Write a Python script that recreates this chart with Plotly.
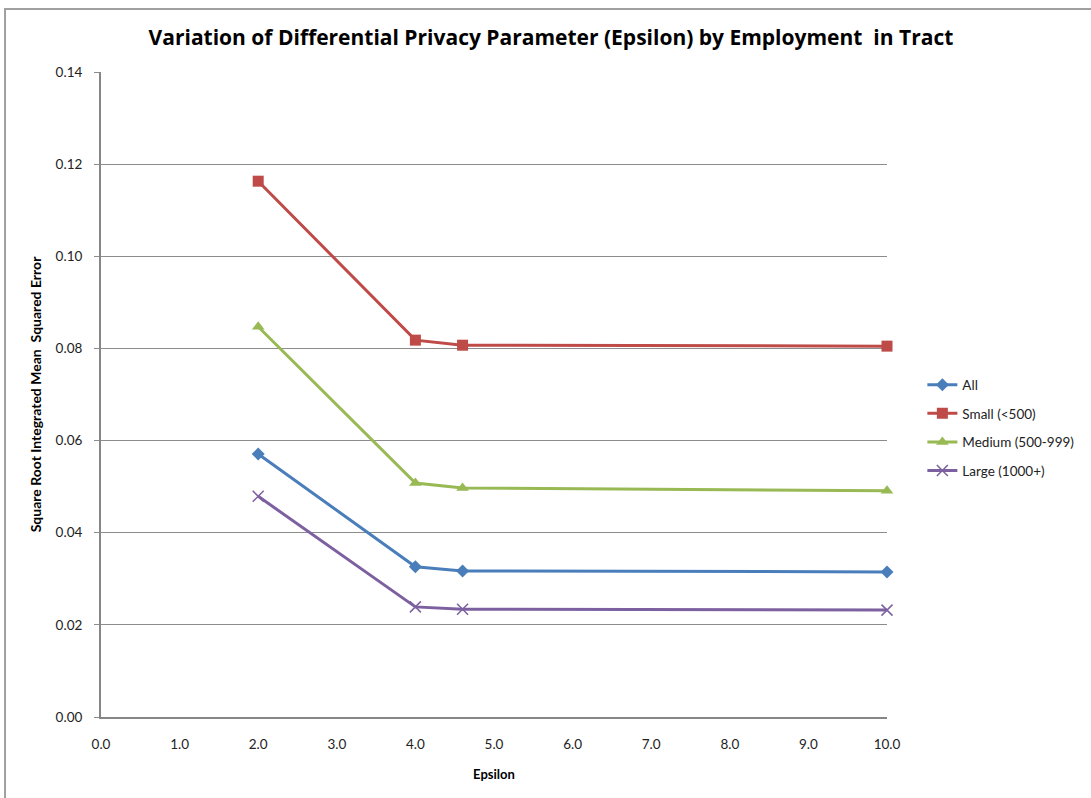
import plotly.graph_objects as go

# Epsilon values tested
epsilon = [2.0, 4.0, 4.6, 10.0]

# Square-root integrated MSE by tract employment class
rmse_all = [0.0571, 0.0326, 0.0317, 0.0315]
rmse_small = [0.1163, 0.0818, 0.0807, 0.0805]
rmse_medium = [0.0847, 0.0508, 0.0497, 0.0491]
rmse_large = [0.0479, 0.0239, 0.0234, 0.0232]

series_names = ["All", "Small (<500)", "Medium (500-999)", "Large (1000+)"]
series_values = [rmse_all, rmse_small, rmse_medium, rmse_large]
series_colors = ["#4A7EBB", "#BE4B48", "#98B954", "#7D60A0"]
series_symbols = ["diamond", "square", "triangle-up", "x-thin"]
series_sizes = [10, 11, 11, 11]

x_ticks = [0, 1, 2, 3, 4, 5, 6, 7, 8, 9, 10]
y_ticks = [0.0, 0.02, 0.04, 0.06, 0.08, 0.10, 0.12, 0.14]

FONT = "Lato, 'Open Sans', sans-serif"

fig = go.Figure()
for name, vals, color, sym, size in zip(series_names, series_values, series_colors,
                                        series_symbols, series_sizes):
    marker = dict(symbol=sym, size=size, color=color)
    if sym == "x-thin":
        marker["line"] = dict(color=color, width=1.5)
    fig.add_trace(go.Scatter(
        x=epsilon, y=vals, name=name, mode="lines+markers",
        legendgroup=name,
        line=dict(color=color, width=3), marker=marker,
        cliponaxis=False,
    ))

fig.update_layout(
    width=1091, height=798,
    margin=dict(l=101, r=204, t=72, b=81),
    paper_bgcolor="white", plot_bgcolor="white",
    font=dict(family=FONT, size=13, color="#222222"),
    title=dict(
        text="<b>Variation of Differential Privacy Parameter (Epsilon) by Employment  in Tract</b>",
        x=0.505, xanchor="center", xref="container", y=0.953, yanchor="middle",
        font=dict(family="'Open Sans', sans-serif", size=21, color="#000000"),
    ),
    xaxis=dict(
        range=[0, 10], tickvals=x_ticks, tickformat=".1f",
        showgrid=False, zeroline=False,
        showline=True, linecolor="#868686", linewidth=2,
        ticks="outside", ticklen=14, tickcolor="rgba(0,0,0,0)",
        tickfont=dict(size=13.5, color="#222222"),
        title=dict(text="<b>Epsilon</b>", font=dict(size=13, color="#000000"), standoff=19),
    ),
    yaxis=dict(
        range=[0, 0.14], tickvals=y_ticks, tickformat=".2f",
        showgrid=True, gridcolor="#8C8C8C", gridwidth=1, zeroline=False,
        showline=True, linecolor="#868686", linewidth=2,
        ticks="outside", ticklen=5, tickcolor="#8C8C8C", tickwidth=1,
        ticklabelstandoff=9,
        tickfont=dict(size=13.5, color="#222222"),
        title=dict(text="<b>Square Root Integrated Mean  Squared Error</b>",
                   font=dict(size=14, color="#000000"), standoff=11),
    ),
    legend=dict(
        x=1.045, xanchor="left", y=0.448, yanchor="middle",
        font=dict(size=13.5, color="#222222"),
        tracegroupgap=8, itemwidth=30, bgcolor="rgba(0,0,0,0)",
    ),
    showlegend=True,
)

# chart frame around the whole figure
fig.add_shape(type="rect", xref="paper", yref="paper",
              x0=-0.1221, x1=1.5, y0=-0.3, y1=1.0977,
              line=dict(color="#A0A0A0", width=2), layer="below")

fig.write_html("out.html")
